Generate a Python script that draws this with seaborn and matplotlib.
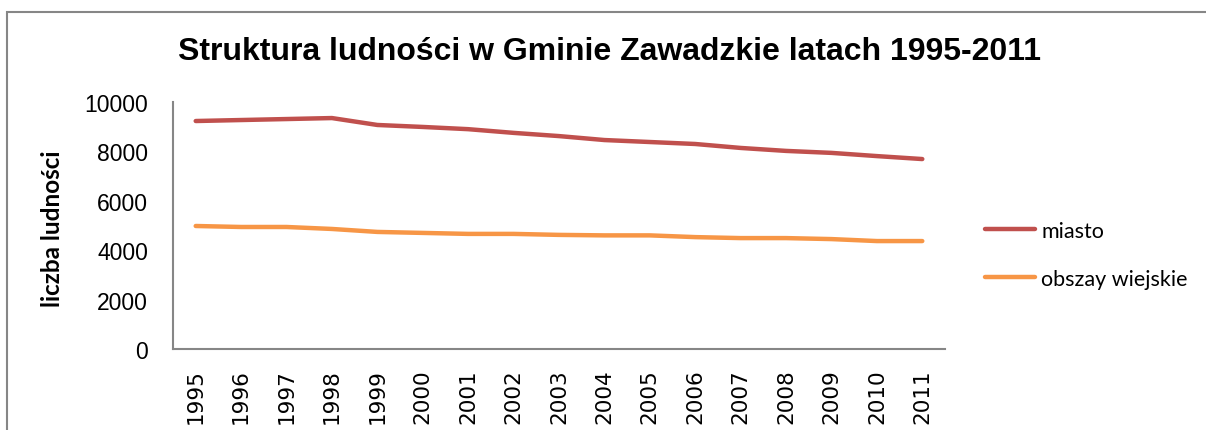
import matplotlib
matplotlib.use("Agg")
import matplotlib.pyplot as plt
import seaborn as sns
import pandas as pd
from matplotlib.patches import Rectangle
from matplotlib.lines import Line2D

years = [str(y) for y in range(1995, 2012)]
miasto = [9230, 9270, 9310, 9350, 9070, 8990, 8900, 8750, 8620, 8460, 8380, 8300, 8140, 8020, 7940, 7810, 7690]
wies = [4980, 4940, 4940, 4860, 4740, 4700, 4660, 4660, 4620, 4600, 4600, 4530, 4490, 4490, 4450, 4370, 4370]
series_names = ["miasto", "obszay wiejskie"]
colors = ["#C0504D", "#F79646"]

sns.set_style("white")
plt.rcParams["text.color"] = "black"
plt.rcParams["xtick.color"] = "black"
plt.rcParams["ytick.color"] = "black"
plt.rcParams["axes.labelcolor"] = "black"

df = pd.DataFrame({
    "rok": years * 2,
    "wartosc": miasto + wies,
    "seria": [series_names[0]] * len(years) + [series_names[1]] * len(years),
})

fig = plt.figure(figsize=(12.06, 4.31), dpi=100)
fig.patches.append(Rectangle((7 / 1206, -0.1), 1.2, 1 - 13 / 431 + 0.1, transform=fig.transFigure,
                             fill=False, edgecolor="#868686", linewidth=1.5))
ax = fig.add_axes([173 / 1206, 1 - 350 / 431, (945 - 173) / 1206, (350 - 103) / 431])

sns.lineplot(data=df, x="rok", y="wartosc", hue="seria", palette=colors, linewidth=3.2,
             ax=ax, legend=False, sort=False)

ax.set_xlim(-0.5, len(years) - 0.5)
ax.set_ylim(0, 10000)
ax.set_yticks([0, 2000, 4000, 6000, 8000, 10000])
ax.set_yticklabels(["0", "2000", "4000", "6000", "8000", "10000"], fontsize=16.5, family="Liberation Sans")
ax.tick_params(axis="y", length=0, pad=18)
ax.tick_params(axis="x", length=0, pad=14)
ax.set_xticks(range(len(years)))
ax.set_xticklabels(years, rotation=90, fontsize=15.5, family="DejaVu Sans")
ax.set_xlabel("")
ax.set_ylabel("liczba ludności", fontsize=17.5, fontweight="bold", family="Lato")
ax.yaxis.set_label_coords((64 - 173) / 772, 0.49)
for s in ["top", "right"]:
    ax.spines[s].set_visible(False)
for s in ["left", "bottom"]:
    ax.spines[s].set_color("#868686")
    ax.spines[s].set_linewidth(1.5)

fig.text(610 / 1206, 1 - 52 / 431, "Struktura ludności w Gminie Zawadzkie latach 1995-2011",
         ha="center", va="center", fontsize=23, fontweight="bold", family="Liberation Sans")

handles = [Line2D([0], [0], color=c, linewidth=3.2) for c in colors]
fig.legend(handles, series_names, loc="center left", bbox_to_anchor=(966 / 1206, 1 - 256 / 431),
           frameon=False, prop={"family": "Lato", "size": 15.5}, handlelength=2.3,
           labelspacing=1.3, handletextpad=0.3)

fig.savefig("out.png", dpi=100)
